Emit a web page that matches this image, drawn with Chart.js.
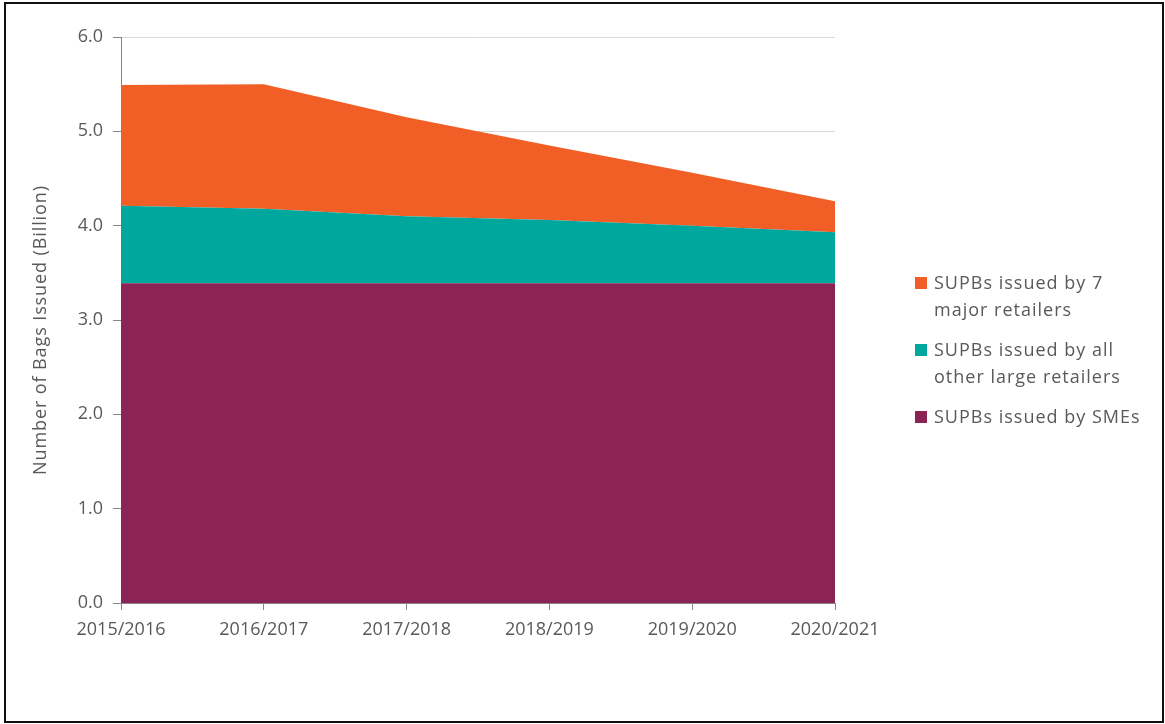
<!DOCTYPE html>
<html lang="en">
<head>
  <meta charset="UTF-8">
  <title>Single-use plastic bags issued</title>
  <script src="https://cdn.jsdelivr.net/npm/chart.js"></script>
  <style>
    body {
      margin: 0;
      background: #fff;
      font-family: "Open Sans", sans-serif;
      color: #595959;
    }

    .frame {
      position: absolute;
      left: 4px;
      top: 2px;
      width: 1160px;
      height: 721px;
      box-sizing: border-box;
      border: 2px solid #111;
      pointer-events: none;
    }

    #chart {
      position: absolute;
      left: 0;
      top: 0;
    }

    #yTitle {
      position: absolute;
      left: -161px;
      top: 318px;
      width: 400px;
      line-height: 24px;
      text-align: center;
      font-size: 18px;
      letter-spacing: 0.9px;
      transform: rotate(-90deg);
      white-space: nowrap;
    }

    #legend {
      position: absolute;
      left: 915px;
      top: 269px;
      font-size: 18px;
      line-height: 27px;
      letter-spacing: 1px;
    }

    .item {
      display: flex;
      margin-bottom: 13px;
    }

    .swatch {
      width: 12px;
      height: 12px;
      margin: 8px 7px 0 0;
      flex: none;
    }
  </style>
</head>
<body>

<canvas id="chart" width="1165" height="724"></canvas>
<div id="yTitle"></div>
<div id="legend"></div>
<div class="frame"></div>

<script>
  const years = ['2015/2016', '2016/2017', '2017/2018', '2018/2019', '2019/2020', '2020/2021'];

  // billions of bags, stacked bottom to top
  const smes = [3.39, 3.39, 3.39, 3.39, 3.39, 3.39];
  const otherLarge = [0.82, 0.79, 0.71, 0.67, 0.61, 0.54];
  const majorSeven = [1.28, 1.32, 1.05, 0.79, 0.56, 0.33];

  const seriesLabels = [
    ['SUPBs issued by SMEs'],
    ['SUPBs issued by all', 'other large retailers'],
    ['SUPBs issued by 7', 'major retailers']
  ];
  const seriesColors = ['#8B2455', '#00A79D', '#F15F26'];

  const yTicks = [0, 1, 2, 3, 4, 5, 6];
  const yTitle = 'Number of Bags Issued (Billion)';

  const textColor = '#595959';
  const axisColor = '#868686';

  const font = { family: '"Open Sans", sans-serif', size: 18 };

  const datasets = [smes, otherLarge, majorSeven].map((values, i) => ({
    label: seriesLabels[i].join(' '),
    data: values,
    backgroundColor: seriesColors[i],
    borderWidth: 0,
    pointRadius: 0,
    fill: i === 0 ? 'origin' : '-1',
    tension: 0
  }));

  const chart = new Chart(document.getElementById('chart'), {
    type: 'line',
    data: { labels: years, datasets: datasets },
    options: {
      responsive: false,
      animation: false,
      layout: { padding: { left: 0, top: 37, right: 330, bottom: 0 } },
      plugins: {
        legend: { display: false },
        tooltip: { enabled: false }
      },
      scales: {
        x: {
          offset: false,
          grid: {
            drawOnChartArea: false,
            tickLength: 7,
            tickColor: axisColor
          },
          border: { color: axisColor },
          ticks: { color: textColor, font: font, padding: 9, maxRotation: 0 },
          afterFit: scale => { scale.height = 121; }
        },
        y: {
          stacked: true,
          min: 0,
          max: 6,
          afterBuildTicks: scale => { scale.ticks = yTicks.map(v => ({ value: v })); },
          grid: {
            color: '#d9d9d9',
            tickLength: 8,
            tickColor: axisColor
          },
          border: { color: axisColor },
          ticks: {
            color: textColor,
            font: font,
            padding: 10,
            callback: v => v.toFixed(1)
          },
          afterFit: scale => { scale.width = 121; }
        }
      }
    }
  });

  // axis title and legend are plain HTML so the text can be letter-spaced
  document.getElementById('yTitle').textContent = yTitle;

  // legend lists the top of the stack first
  const legend = document.getElementById('legend');
  chart.data.datasets.slice().reverse().forEach((ds, k) => {
    const i = chart.data.datasets.length - 1 - k;
    const item = document.createElement('div');
    item.className = 'item';
    const swatch = document.createElement('span');
    swatch.className = 'swatch';
    swatch.style.background = ds.backgroundColor;
    const text = document.createElement('span');
    text.innerHTML = seriesLabels[i].join('<br>');
    item.appendChild(swatch);
    item.appendChild(text);
    legend.appendChild(item);
  });
</script>

</body>
</html>
